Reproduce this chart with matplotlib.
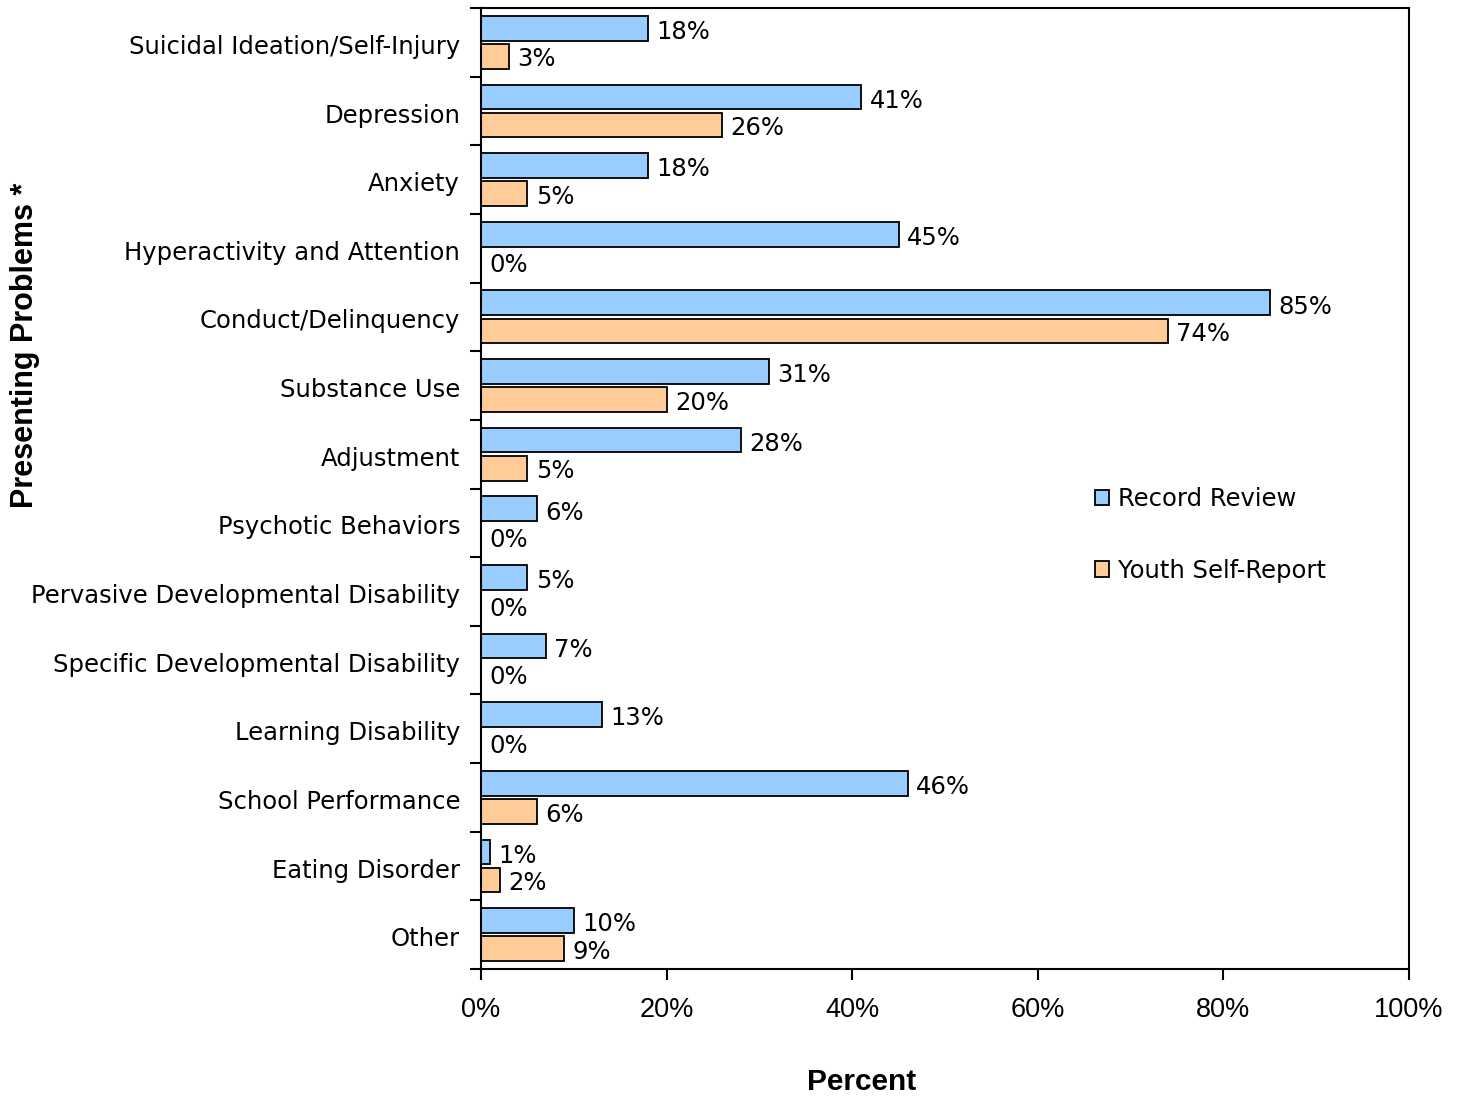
import numpy as np
import matplotlib.pyplot as plt
from matplotlib.patches import Patch

# Presenting problems, record review vs youth self-report
categories = ["Suicidal Ideation/Self-Injury", "Depression", "Anxiety",
              "Hyperactivity and Attention", "Conduct/Delinquency", "Substance Use",
              "Adjustment", "Psychotic Behaviors", "Pervasive Developmental Disability",
              "Specific Developmental Disability", "Learning Disability",
              "School Performance", "Eating Disorder", "Other"]
record_review = [18, 41, 18, 45, 85, 31, 28, 6, 5, 7, 13, 46, 1, 10]
self_report = [3, 26, 5, 0, 74, 20, 5, 0, 0, 0, 0, 6, 2, 9]
xticks = [0, 20, 40, 60, 80, 100]

blue = "#99CCFF"
orange = "#FFCC99"
lab_font = dict(family="DejaVu Sans", fontsize=17.5)

fig = plt.figure(figsize=(14.65, 10.98), dpi=100)
ax = fig.add_axes([0.3283, 0.1175, 0.9618 - 0.3283, 0.9927 - 0.1175])

y = np.arange(len(categories))
h = 0.36
ax.barh(y - 0.205, record_review, height=h, color=blue, edgecolor="black", lw=1.3)
ax.barh(y + 0.205, self_report, height=h, color=orange, edgecolor="black", lw=1.3)

for i in range(len(categories)):
    ax.text(record_review[i] + 0.9, y[i] - 0.15, f"{record_review[i]}%", va="center", **lab_font)
    ax.text(self_report[i] + 0.9, y[i] + 0.25, f"{self_report[i]}%", va="center", **lab_font)

ax.set_ylim(len(categories) - 0.5, -0.5)
ax.set_xlim(0, 100)
ax.set_yticks(np.arange(len(categories) + 1) - 0.5)
ax.set_yticklabels([])
ax.set_yticks(y + 0.03, minor=True)
ax.set_yticklabels(categories, minor=True, **lab_font)
ax.tick_params(axis="y", which="minor", length=0, pad=15)
ax.tick_params(axis="y", which="major", length=8, width=1.5, direction="out")
ax.set_xticks(xticks)
ax.set_xticklabels([f"{v}%" for v in xticks], family="Liberation Sans", fontsize=19.5)
ax.tick_params(axis="x", length=8, width=1.5, direction="out", pad=12)
for s in ax.spines.values():
    s.set_linewidth(1.5)

fig.text(25 / 1465, 1 - 345 / 1098, "Presenting Problems *", rotation=90,
         ha="center", va="center", family="Liberation Sans", fontsize=22, fontweight="bold")
fig.text(862 / 1465, 1 - 1082 / 1098, "Percent", ha="center", va="center",
         family="Liberation Sans", fontsize=21.5, fontweight="bold")

handles = [Patch(facecolor=blue, edgecolor="black", lw=1.3),
           Patch(facecolor=orange, edgecolor="black", lw=1.3)]
fig.legend(handles, ["Record Review", "Youth Self-Report"], loc="center left",
           bbox_to_anchor=(1073 / 1465, 1 - 535 / 1098), frameon=False,
           prop=dict(family="DejaVu Sans", size=17.5), handlelength=0.6,
           handleheight=0.6, handletextpad=0.35, labelspacing=1.95)

fig.savefig("out.png", dpi=100)
